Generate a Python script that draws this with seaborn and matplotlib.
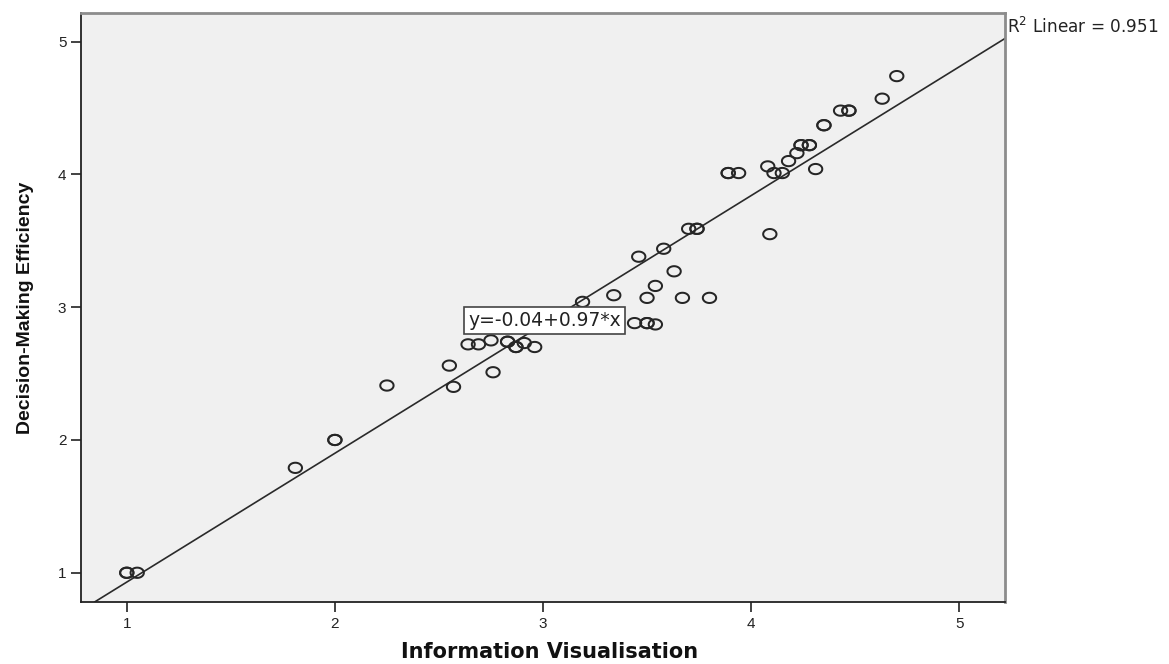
import matplotlib
matplotlib.use("Agg")
import matplotlib.pyplot as plt
import numpy as np
import pandas as pd
import seaborn as sns
from matplotlib.path import Path

# values (dark circles = repeated cases)
info_vis = [1.00, 1.00, 1.05, 1.81, 2.00, 2.00, 2.25, 2.55, 2.57, 2.64,
            2.69, 2.75, 2.76, 2.83, 2.83, 2.87, 2.87, 2.91, 2.96, 3.19,
            3.34, 3.44, 3.46, 3.50, 3.50, 3.50, 3.54, 3.54, 3.58, 3.63,
            3.67, 3.70, 3.74, 3.74, 3.80, 3.89, 3.89, 3.94, 4.08, 4.09,
            4.11, 4.15, 4.18, 4.22, 4.24, 4.24, 4.28, 4.28, 4.31, 4.35,
            4.35, 4.43, 4.47, 4.47, 4.63, 4.70]
dm_eff = [1.00, 1.00, 1.00, 1.79, 2.00, 2.00, 2.41, 2.56, 2.40, 2.72,
          2.72, 2.75, 2.51, 2.74, 2.74, 2.70, 2.70, 2.73, 2.70, 3.04,
          3.09, 2.88, 3.38, 2.88, 2.88, 3.07, 2.87, 3.16, 3.44, 3.27,
          3.07, 3.59, 3.59, 3.59, 3.07, 4.01, 4.01, 4.01, 4.06, 3.55,
          4.01, 4.01, 4.10, 4.16, 4.22, 4.22, 4.22, 4.22, 4.04, 4.37,
          4.37, 4.48, 4.48, 4.48, 4.57, 4.74]

intercept = -0.04
slope = 0.97
r_squared = 0.951
ticks = [1, 2, 3, 4, 5]

df = pd.DataFrame({"Information Visualisation": info_vis,
                   "Decision-Making Efficiency": dm_eff})

sns.set_style("white")
plt.rcParams['font.family'] = ['Liberation Sans', 'DejaVu Sans']

# the source image is a bit stretched sideways, so the circles are wide ovals
t = np.linspace(0, 2 * np.pi, 61)
oval = Path(np.column_stack([1.3 * np.cos(t), np.sin(t)]), closed=True)

fig = plt.figure(figsize=(11.69, 6.64), dpi=100)
ax = fig.add_axes([0.0693, 0.0934, 0.7904, 0.887])
ax.set_facecolor("#f0f0f0")

sns.scatterplot(data=df, x="Information Visualisation", y="Decision-Making Efficiency",
                ax=ax, marker=oval, s=92, facecolors="none", edgecolor="#262626",
                linewidths=1.45, zorder=3)

# fit line from the equation printed on the chart
ax.axline((0, intercept), slope=slope, color="#2a2a2a", lw=1.2, zorder=2)

ax.set_xlim(0.78, 5.22)
ax.set_ylim(0.78, 5.215)
ax.set_xticks(ticks)
ax.set_yticks(ticks)
ax.tick_params(axis="both", direction="out", length=7, width=1.2, color="#222222",
               labelcolor="#222222", labelsize=11, pad=3.5, bottom=True, left=True)

for side in ["left", "bottom"]:
    ax.spines[side].set_color("#222222")
    ax.spines[side].set_linewidth(1.3)
for side in ["top", "right"]:
    ax.spines[side].set_color("#8c8c8c")
    ax.spines[side].set_linewidth(2)

ax.set_xlabel("Information Visualisation", fontsize=15, fontweight="bold",
              family=["DejaVu Sans"], labelpad=7, color="#111111")
ax.xaxis.set_label_coords(0.507, -0.068)
ax.set_ylabel("Decision-Making Efficiency", fontsize=14, fontweight="bold",
              family=["Liberation Sans"], labelpad=17, color="#111111")

ax.text(2.64, 2.9, "y=-0.04+0.97*x", fontsize=13.5, ha="left", va="center",
        color="#222222", zorder=4, family=["DejaVu Sans"],
        bbox=dict(boxstyle="square,pad=0.2", fc="white", ec="#444444", lw=1.2))

ax.text(1.002, 0.993, "R$^2$ Linear = %.3f" % r_squared, transform=ax.transAxes,
        fontsize=12.2, ha="left", va="top", color="#222222", family=["DejaVu Sans"])

fig.savefig("out.png", dpi=100)
